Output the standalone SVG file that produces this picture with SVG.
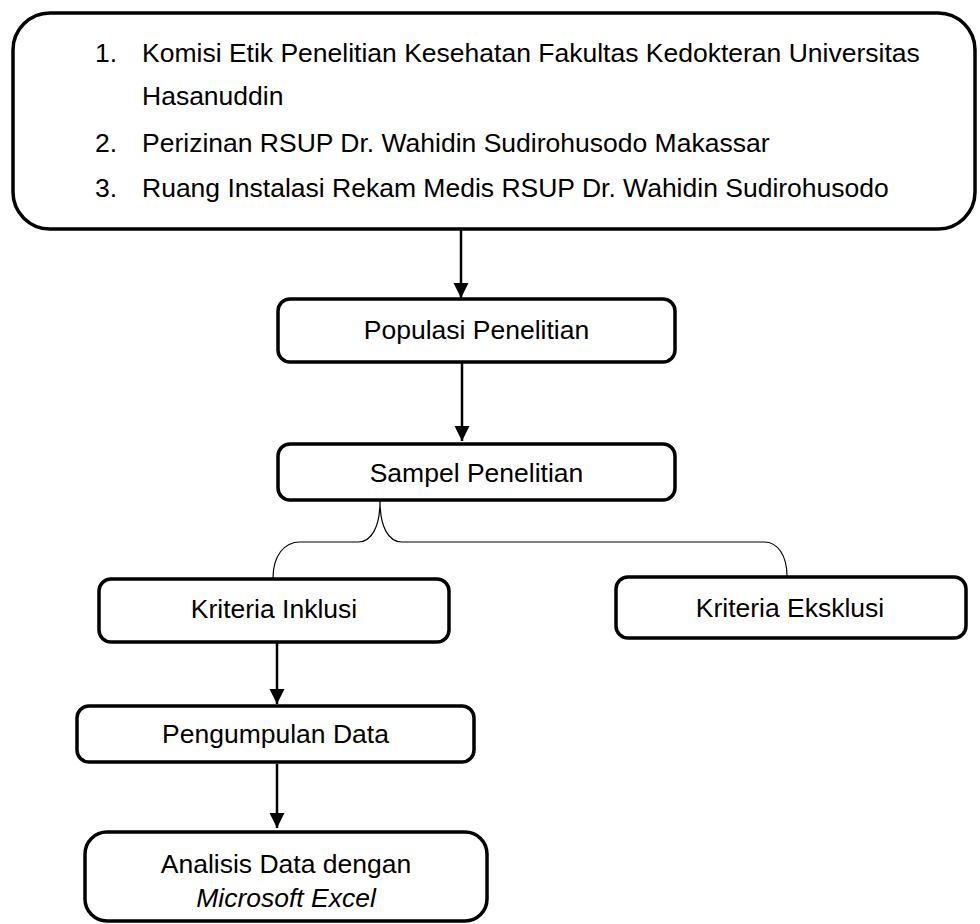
<svg xmlns="http://www.w3.org/2000/svg" width="980" height="924" viewBox="0 0 980 924">
<style>
  .box { fill: #ffffff; stroke: #000000; stroke-width: 3.5; }
  .t { font-family: "Liberation Sans", Arial, sans-serif; font-size: 26.5px; fill: #000000; }
  .c { text-anchor: middle; }
  .it { font-style: italic; }
  .conn { fill: none; stroke: #000000; stroke-width: 2.5; }
  .brace { fill: none; stroke: #000000; stroke-width: 1.2; }
</style>
<defs>
  <marker id="arrow" markerUnits="userSpaceOnUse" markerWidth="16" markerHeight="16" refX="15" refY="7.5" orient="auto">
    <path d="M0,0 L15,7.5 L0,15 Z" fill="#000000"/>
  </marker>
</defs>

<g id="node-izin">
  <rect class="box" x="13" y="13" width="962" height="216" rx="37" ry="37"/>
  <text class="t" x="95" y="62">1.</text>
  <text class="t" x="142" y="62">Komisi Etik Penelitian Kesehatan Fakultas Kedokteran Universitas</text>
  <text class="t" x="142" y="105">Hasanuddin</text>
  <text class="t" x="95" y="152">2.</text>
  <text class="t" x="142" y="152">Perizinan RSUP Dr. Wahidin Sudirohusodo Makassar</text>
  <text class="t" x="95" y="197">3.</text>
  <text class="t" x="142" y="197">Ruang Instalasi Rekam Medis RSUP Dr. Wahidin Sudirohusodo</text>
</g>

<g id="node-populasi">
  <rect class="box" x="278" y="299" width="397" height="63" rx="12" ry="12"/>
  <text class="t c" x="476.5" y="339">Populasi Penelitian</text>
</g>

<g id="node-sampel">
  <rect class="box" x="278" y="444" width="397" height="56" rx="12" ry="12"/>
  <text class="t c" x="476.5" y="482">Sampel Penelitian</text>
</g>

<g id="node-inklusi">
  <rect class="box" x="99" y="579" width="350" height="63" rx="12" ry="12"/>
  <text class="t c" x="274" y="618">Kriteria Inklusi</text>
</g>

<g id="node-eksklusi">
  <rect class="box" x="616" y="577" width="350" height="61" rx="12" ry="12"/>
  <text class="t c" x="790" y="617">Kriteria Eksklusi</text>
</g>

<g id="node-pengumpulan">
  <rect class="box" x="77" y="706" width="397" height="56" rx="12" ry="12"/>
  <text class="t c" x="275.5" y="743">Pengumpulan Data</text>
</g>

<g id="node-analisis">
  <rect class="box" x="85" y="832" width="402" height="89" rx="22" ry="22"/>
  <text class="t c" x="286" y="873">Analisis Data dengan</text>
  <text class="t c it" x="286" y="907">Microsoft Excel</text>
</g>

<g id="connectors">
  <line class="conn" x1="461" y1="229" x2="461" y2="298" marker-end="url(#arrow)"/>
  <line class="conn" x1="462" y1="362" x2="462" y2="441" marker-end="url(#arrow)"/>
  <path class="brace" d="M273,578 C273,556 284,542 300,542 L358,542 C372,542 380,526 380,501 C380,526 388,542 402,542 L764,542 C778,542 787,556 787,576"/>
  <line class="conn" x1="277" y1="643" x2="277" y2="704" marker-end="url(#arrow)"/>
  <line class="conn" x1="277" y1="764" x2="277" y2="828" marker-end="url(#arrow)"/>
</g>
</svg>
